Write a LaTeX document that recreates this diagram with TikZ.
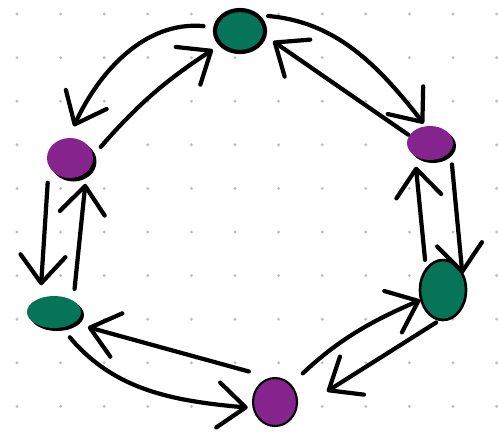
\documentclass[tikz,border=0pt]{standalone}
\usepackage{tikz}
\usetikzlibrary{arrows.meta,shapes.geometric,shadows}
\definecolor{verdeBola}{HTML}{067456}
\definecolor{moradoBola}{HTML}{84248C}
\definecolor{grisPunto}{HTML}{BDBDBD}

\begin{document}
\begin{tikzpicture}[x=0.02cm, y=0.02cm,
    mancha/.style={ellipse, inner sep=0pt, outer sep=0pt, fill=#1},
    sombra/.style={drop shadow={fill=black, opacity=1, shadow xshift=#1, shadow yshift=-#1}},
    borde/.style={draw=black, line width=#1},
    flecha/.style={-{Straight Barb[length=5.5mm, width=9mm, round]}, line width=2.4pt, line cap=round},
    punto/.style={fill=grisPunto}
  ]
  \useasboundingbox[fill=white] (0,0) rectangle (499,-444);
  \foreach \i in {0,...,11}
    \foreach \j in {0,...,9}
      \fill[punto] (17+43.6*\i, -14-43.6*\j) circle (1.6);

  % las seis manchas
  \node[mancha=verdeBola, borde=2.4pt, minimum width=1cm, minimum height=0.84cm] (arriba) at (240,-31) {};
  \node[mancha=moradoBola, sombra=0.07cm, minimum width=0.92cm, minimum height=0.8cm] (izqsup) at (70,-158) {};
  \node[mancha=moradoBola, sombra=0.06cm, minimum width=0.92cm, minimum height=0.68cm] (dersup) at (430,-143) {};
  \node[mancha=verdeBola, sombra=0.06cm, minimum width=1.08cm, minimum height=0.64cm] (izqinf) at (54,-312) {};
  \node[mancha=verdeBola, borde=1.5pt, minimum width=0.92cm, minimum height=1.2cm] (derinf) at (443,-290) {};
  \node[mancha=moradoBola, borde=1.2pt, minimum width=0.88cm, minimum height=0.96cm] (abajo) at (275,-402) {};

  % flechas de ida y vuelta
  \draw[flecha, shorten <=0.24cm, shorten >=0.26cm] (arriba.171) to[out=175, in=65] (izqsup.95);
  \draw[flecha, shorten <=0.24cm, shorten >=0.19cm] (izqsup.5) to[bend left=8] (arriba.215);
  \draw[flecha, shorten <=0.24cm, shorten >=0.07cm] (arriba.45) to[out=-5, in=128] (dersup.104);
  \draw[flecha, shorten <=0.03cm, shorten >=0.21cm] (dersup.160) -- (arriba.-10);
  \draw[flecha, shorten <=0.28cm] (dersup.-20) -- (derinf.40);
  \draw[flecha, shorten <=0.2cm, shorten >=0.22cm] (derinf.130) -- (dersup.220);
  \draw[flecha, shorten <=0.34cm, shorten >=0.02cm] (abajo.48) to[bend left=10] (derinf.204);
  \draw[flecha, shorten <=0.1cm, shorten >=0.75cm] (derinf.265) -- (abajo.-25);
  \draw[flecha, shorten <=0.26cm, shorten >=0.12cm] (izqinf.-64) to[out=-50, in=175] (abajo.196);
  \draw[flecha, shorten <=0.5cm, shorten >=0.3cm] (abajo.95) -- (izqinf.-30);
  \draw[flecha, shorten <=0.34cm, shorten >=0.26cm] (izqsup.200) -- (izqinf.135);
  \draw[flecha, shorten <=0.24cm, shorten >=0.24cm] (izqinf.30) -- (izqsup.-40);
\end{tikzpicture}
\end{document}
